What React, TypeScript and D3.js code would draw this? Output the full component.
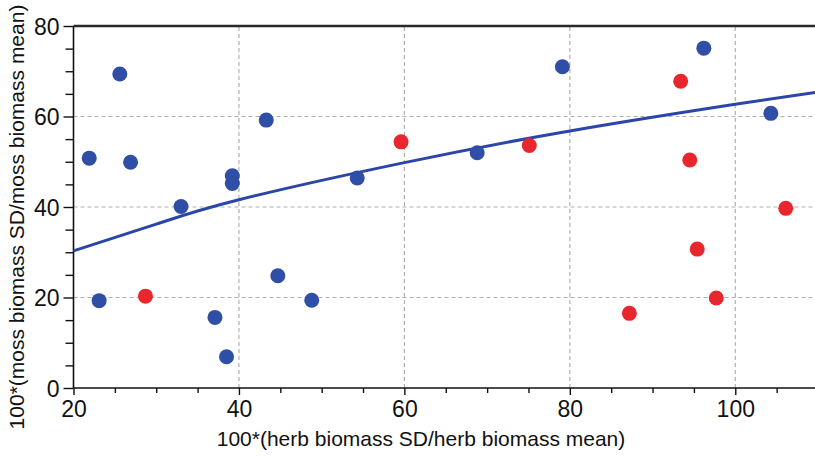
import React, { useEffect, useRef } from 'react';
import * as d3 from 'd3';

// blue sites
const blueX = [21.9, 25.6, 26.9, 33.0, 23.1, 37.1, 38.5, 39.2, 39.2, 43.3, 44.7, 48.8, 54.3, 68.8, 79.1, 96.2, 104.3];
const blueY = [50.8, 69.4, 49.9, 40.1, 19.3, 15.6, 6.9, 46.9, 45.2, 59.2, 24.8, 19.4, 46.4, 52.0, 71.0, 75.1, 60.7];

// red sites
const redX = [28.7, 59.6, 75.1, 93.4, 94.5, 95.4, 87.2, 97.7, 106.1];
const redY = [20.3, 54.4, 53.6, 67.8, 50.4, 30.7, 16.5, 19.9, 39.7];

// fitted curve
const trendX = [20, 30, 40, 60, 80, 100, 110];
const trendY = [30.3, 36.2, 41.6, 49.8, 56.8, 62.7, 65.4];

const xMajor = [20, 40, 60, 80, 100];
const xMinor = [25, 30, 35, 45, 50, 55, 65, 70, 75, 85, 90, 95, 105];
const yMajor = [0, 20, 40, 60, 80];
const yMinor = [5, 10, 15, 25, 30, 35, 45, 50, 55, 65, 70, 75];

const xTitle = '100*(herb biomass SD/herb biomass mean)';
const yTitle = '100*(moss biomass SD/moss biomass mean)';

const W = 815;
const H = 457;
const BLUE = '#2f4ea6';
const RED = '#e8262d';
const FONT = 'Liberation Sans, Arial, sans-serif';

export default function App() {
    const ref = useRef<SVGSVGElement>(null);

    useEffect(() => {
        const svg = d3.select(ref.current);
        svg.selectAll('*').remove();

        const x = d3.scaleLinear().domain([20, 110]).range([73.5, 818]);
        const y = d3.scaleLinear().domain([0, 80]).range([388, 26]);

        // grid
        const grid = svg.append('g').attr('stroke', '#b0b0b0').attr('stroke-width', 1.2).attr('stroke-dasharray', '4,3');
        grid.selectAll('.gx').data(xMajor.slice(1)).join('line')
            .attr('x1', d => x(d)).attr('x2', d => x(d))
            .attr('y1', y(0)).attr('y2', y(80));
        grid.selectAll('.gy').data(yMajor.slice(1, -1)).join('line')
            .attr('y1', d => y(d)).attr('y2', d => y(d))
            .attr('x1', x(20)).attr('x2', W);

        // top frame
        svg.append('line')
            .attr('x1', x(20)).attr('x2', W)
            .attr('y1', y(80)).attr('y2', y(80))
            .attr('stroke', '#2a2a2a').attr('stroke-width', 2.5);

        // axes
        const xAxisMinor = svg.append('g').attr('transform', `translate(0,${y(0)})`)
            .call(d3.axisBottom(x).tickValues(xMinor).tickSize(5).tickFormat(() => ''));
        const xAxis = svg.append('g').attr('transform', `translate(0,${y(0)})`)
            .call(d3.axisBottom(x).tickValues(xMajor).tickSize(7).tickPadding(6).tickFormat(d3.format('d')));
        const yAxisMinor = svg.append('g').attr('transform', `translate(${x(20)},0)`)
            .call(d3.axisLeft(y).tickValues(yMinor).tickSize(8).tickFormat(() => ''));
        const yAxis = svg.append('g').attr('transform', `translate(${x(20)},0)`)
            .call(d3.axisLeft(y).tickValues(yMajor).tickSize(10).tickPadding(4).tickFormat(d3.format('d')));

        [xAxisMinor, xAxis, yAxisMinor, yAxis].forEach(g => {
            g.select('.domain').attr('stroke', '#111').attr('stroke-width', 1.6);
            g.selectAll('.tick line').attr('stroke', '#111').attr('stroke-width', 1.4);
            g.selectAll('text').attr('fill', '#111').style('font-family', FONT).style('font-size', '23px');
        });
        xAxis.select('.domain').attr('d', `M${x(20)},0H${W}`);
        xAxisMinor.select('.domain').remove();
        yAxisMinor.select('.domain').remove();
        yAxis.select('.domain').attr('d', `M0,${y(0)}V${y(80)}`);
        yAxis.selectAll('text').attr('dy', '0.36em');

        // trend
        const pts = trendX.map((v, i) => [v, trendY[i]] as [number, number]);
        svg.append('path')
            .datum(pts)
            .attr('fill', 'none')
            .attr('stroke', '#2b45a8')
            .attr('stroke-width', 3)
            .attr('d', d3.line<[number, number]>().x(d => x(d[0])).y(d => y(d[1])).curve(d3.curveNatural));

        // dots
        svg.append('g').selectAll('circle')
            .data(blueX.map((v, i) => [v, blueY[i]]))
            .join('circle')
            .attr('cx', d => x(d[0])).attr('cy', d => y(d[1])).attr('r', 7.5)
            .attr('fill', BLUE);
        svg.append('g').selectAll('circle')
            .data(redX.map((v, i) => [v, redY[i]]))
            .join('circle')
            .attr('cx', d => x(d[0])).attr('cy', d => y(d[1])).attr('r', 7.5)
            .attr('fill', RED);

        // titles
        svg.append('text')
            .attr('x', 421).attr('y', 446)
            .attr('text-anchor', 'middle')
            .style('font-family', FONT).style('font-size', '21px').attr('fill', '#111')
            .text(xTitle);
        svg.append('text')
            .attr('transform', `translate(24,217) rotate(-90)`)
            .attr('text-anchor', 'middle')
            .style('font-family', FONT).style('font-size', '21px').attr('fill', '#111')
            .text(yTitle);
    }, []);

    return (
        <svg ref={ref} width={W} height={H}
            style={{ position: 'absolute', left: 0, top: 0, background: '#fff' }} />
    );
}
